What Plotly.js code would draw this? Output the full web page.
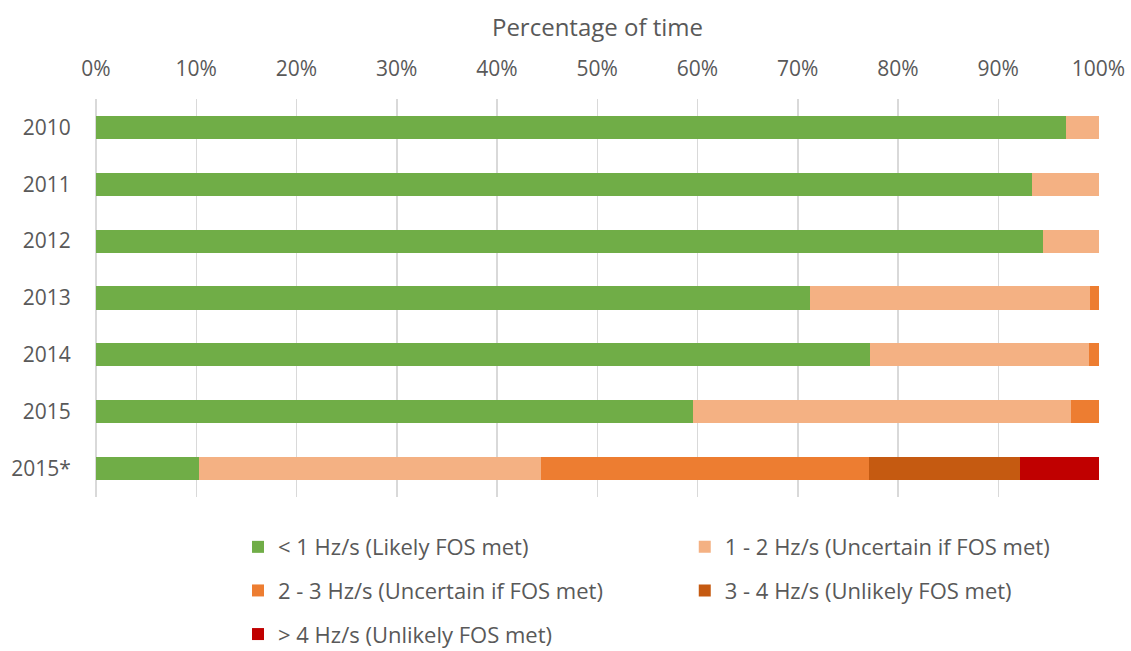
<!DOCTYPE html>
<html>
<head>
<meta charset="utf-8">
<script src="https://cdn.plot.ly/plotly-3.0.1.min.js"></script>
<style>html,body{margin:0;padding:0;background:#fff;}#chart{width:1131px;height:651px;}</style>
</head>
<body>
<div id="chart"></div>
<script>
const years = ['2010', '2011', '2012', '2013', '2014', '2015', '2015*'];
const seriesNames = ['< 1 Hz/s (Likely FOS met)', '1 - 2 Hz/s (Uncertain if FOS met)', '2 - 3 Hz/s (Uncertain if FOS met)', '3 - 4 Hz/s (Unlikely FOS met)', '> 4 Hz/s (Unlikely FOS met)'];
const below1 = [96.8, 93.4, 94.5, 71.2, 77.2, 59.6, 10.3];
const from1to2 = [3.2, 6.6, 5.5, 28.0, 21.9, 37.7, 34.1];
const from2to3 = [0, 0, 0, 0.8, 0.9, 2.7, 32.7];
const from3to4 = [0, 0, 0, 0, 0, 0, 15.1];
const above4 = [0, 0, 0, 0, 0, 0, 7.8];
const seriesColors = ['#70AD47', '#F4B183', '#ED7D31', '#C55A11', '#C00000'];
const tickVals = [0, 10, 20, 30, 40, 50, 60, 70, 80, 90, 100];
const tickText = tickVals.map(v => v + '%');

const values = [below1, from1to2, from2to3, from3to4, above4];
// legend columns: left column holds series 0,2,4; right column holds 1,3
const legendIds = ['legend', 'legend2', 'legend', 'legend2', 'legend'];
const FONT = 'Open Sans, sans-serif';
const TXT = '#595959';

const traces = values.map((v, i) => ({
  type: 'bar',
  orientation: 'h',
  y: years,
  x: v,
  name: seriesNames[i],
  legendgroup: 'g' + i,
  marker: {color: seriesColors[i], line: {width: 0}},
  legend: legendIds[i],
  hoverinfo: 'x+name'
}));

const legendBase = {
  orientation: 'v',
  font: {family: FONT, size: 22, color: TXT},
  bgcolor: 'rgba(0,0,0,0)',
  xanchor: 'left',
  yanchor: 'top',
  y: -0.073,
  traceorder: 'grouped',
  tracegroupgap: 12
};

const layout = {
  width: 1131,
  height: 651,
  paper_bgcolor: '#ffffff',
  plot_bgcolor: '#ffffff',
  margin: {l: 96, r: 32, t: 99, b: 154, autoexpand: false},
  barmode: 'stack',
  bargap: 0.595,
  font: {family: FONT, color: TXT},
  xaxis: {
    side: 'top',
    range: [0, 100.05],
    tickvals: tickVals,
    ticktext: tickText,
    showgrid: true,
    gridcolor: '#D9D9D9',
    gridwidth: 1.5,
    zeroline: true,
    zerolinecolor: '#D9D9D9',
    zerolinewidth: 1.5,
    showline: false,
    ticks: 'outside',
    ticklen: 14,
    tickcolor: 'rgba(0,0,0,0)',
    tickfont: {family: FONT, size: 21, color: TXT},
    title: {text: 'Percentage of time', font: {family: FONT, size: 24, color: TXT}, standoff: 10},
    automargin: false,
    fixedrange: true
  },
  yaxis: {
    type: 'category',
    autorange: 'reversed',
    showgrid: false,
    zeroline: false,
    showline: false,
    ticks: 'outside',
    ticklen: 20,
    tickcolor: 'rgba(0,0,0,0)',
    tickfont: {family: FONT, size: 21, color: TXT},
    automargin: false,
    fixedrange: true
  },
  showlegend: true,
  legend: Object.assign({}, legendBase, {x: 0.1416}),
  legend2: Object.assign({}, legendBase, {x: 0.587})
};

Plotly.newPlot('chart', traces, layout, {displayModeBar: false, staticPlot: true});
</script>
</body>
</html>
